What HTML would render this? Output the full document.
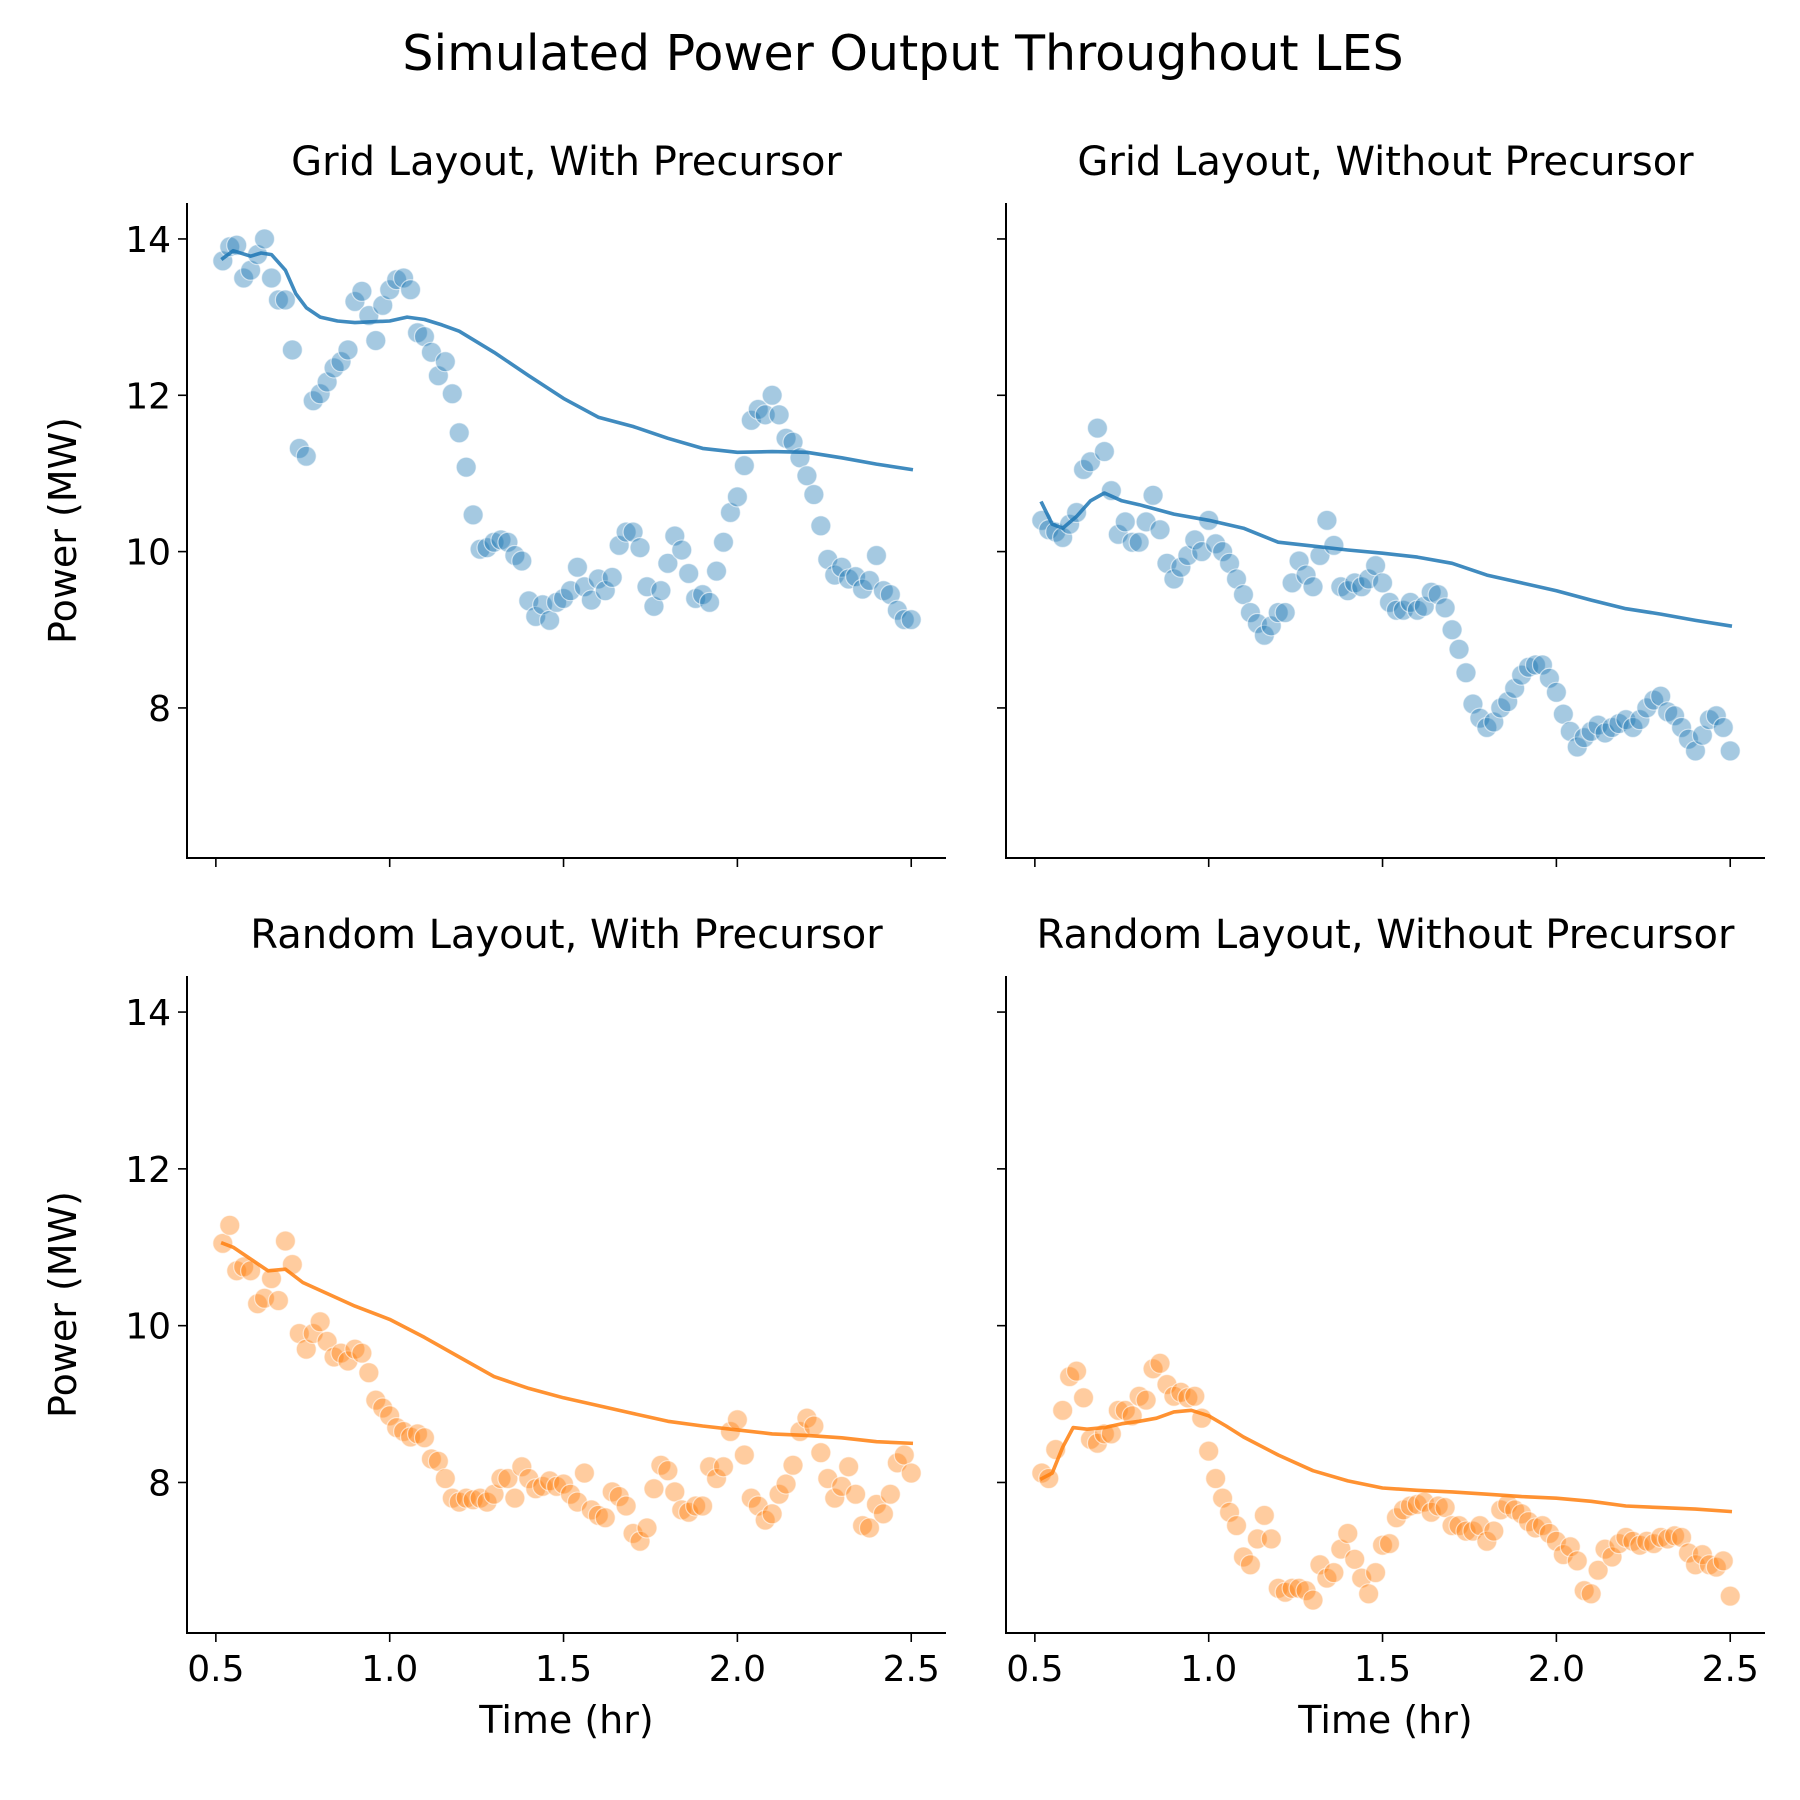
<!DOCTYPE html>
<html><head><meta charset="utf-8"><style>
html,body{margin:0;padding:0;background:#fff;}
svg{display:block;font-family:"DejaVu Sans","Liberation Sans",sans-serif;}
</style></head><body>
<svg id="fig" width="1800" height="1800" viewBox="0 0 1800 1800" xmlns="http://www.w3.org/2000/svg">
<rect width="1800" height="1800" fill="#fff"/>
<text x="903" y="70" font-size="49" text-anchor="middle">Simulated Power Output Throughout LES</text>
</svg>
<script>
const xStart = 0.52, xStep = 0.02;
const gridWithPts = [13.72,13.9,13.92,13.5,13.6,13.8,14.0,13.5,13.22,13.22,12.58,11.32,11.22,11.93,12.02,12.17,12.35,12.43,12.58,13.2,13.33,13.02,12.7,13.15,13.35,13.48,13.5,13.35,12.8,12.75,12.55,12.25,12.43,12.02,11.52,11.08,10.47,10.03,10.05,10.12,10.15,10.12,9.95,9.88,9.37,9.17,9.32,9.12,9.35,9.4,9.5,9.8,9.55,9.38,9.65,9.5,9.67,10.08,10.25,10.25,10.05,9.55,9.3,9.5,9.85,10.2,10.02,9.72,9.4,9.45,9.35,9.75,10.12,10.5,10.7,11.1,11.68,11.82,11.75,12.0,11.75,11.45,11.4,11.2,10.97,10.73,10.33,9.9,9.7,9.8,9.65,9.68,9.52,9.63,9.95,9.5,9.45,9.25,9.13,9.13];
const gridWithoutPts = [10.4,10.28,10.25,10.18,10.35,10.5,11.05,11.15,11.58,11.28,10.78,10.22,10.38,10.12,10.12,10.38,10.72,10.28,9.85,9.65,9.8,9.95,10.15,10.0,10.4,10.1,10.0,9.85,9.65,9.45,9.22,9.08,8.93,9.05,9.22,9.22,9.6,9.88,9.7,9.55,9.95,10.4,10.08,9.55,9.5,9.6,9.55,9.65,9.82,9.6,9.35,9.25,9.25,9.35,9.25,9.3,9.48,9.45,9.28,9.0,8.75,8.45,8.05,7.87,7.75,7.82,8.0,8.08,8.25,8.42,8.52,8.55,8.55,8.38,8.2,7.92,7.7,7.5,7.62,7.7,7.78,7.68,7.75,7.8,7.85,7.75,7.85,8.0,8.1,8.15,7.95,7.9,7.75,7.6,7.45,7.65,7.85,7.9,7.75,7.45];
const randomWithPts = [11.05,11.28,10.7,10.75,10.7,10.28,10.35,10.6,10.32,11.08,10.78,9.9,9.7,9.9,10.05,9.8,9.6,9.65,9.55,9.7,9.65,9.4,9.05,8.95,8.85,8.7,8.65,8.58,8.62,8.57,8.3,8.27,8.05,7.8,7.75,7.8,7.78,7.8,7.75,7.85,8.05,8.05,7.8,8.2,8.05,7.92,7.95,8.02,7.95,7.98,7.85,7.75,8.12,7.65,7.58,7.55,7.88,7.82,7.7,7.35,7.25,7.42,7.92,8.22,8.15,7.88,7.65,7.62,7.7,7.7,8.2,8.05,8.2,8.65,8.8,8.35,7.8,7.7,7.52,7.6,7.85,7.98,8.22,8.65,8.82,8.72,8.38,8.05,7.8,7.95,8.2,7.85,7.45,7.42,7.72,7.6,7.85,8.25,8.35,8.12];
const randomWithoutPts = [8.12,8.05,8.42,8.92,9.35,9.42,9.08,8.55,8.5,8.62,8.62,8.92,8.92,8.85,9.1,9.05,9.45,9.52,9.25,9.1,9.15,9.08,9.1,8.82,8.4,8.05,7.8,7.62,7.45,7.05,6.95,7.28,7.58,7.28,6.65,6.6,6.65,6.65,6.62,6.5,6.95,6.78,6.85,7.15,7.35,7.02,6.78,6.58,6.85,7.2,7.22,7.55,7.65,7.7,7.72,7.75,7.62,7.7,7.68,7.45,7.45,7.38,7.38,7.45,7.25,7.38,7.65,7.72,7.65,7.6,7.5,7.42,7.45,7.35,7.25,7.08,7.18,7.0,6.62,6.58,6.88,7.15,7.05,7.22,7.3,7.25,7.2,7.25,7.22,7.3,7.28,7.32,7.3,7.1,6.95,7.08,6.95,6.92,7.0,6.55];

const gridWithLineX = [0.52,0.55,0.6,0.63,0.66,0.7,0.73,0.76,0.8,0.85,0.9,1.0,1.05,1.1,1.15,1.2,1.3,1.4,1.5,1.6,1.7,1.8,1.9,2.0,2.1,2.2,2.3,2.4,2.5];
const gridWithLineY = [13.75,13.85,13.78,13.82,13.8,13.6,13.3,13.12,13.0,12.95,12.93,12.95,13.0,12.97,12.9,12.82,12.55,12.25,11.96,11.72,11.6,11.45,11.32,11.27,11.28,11.27,11.2,11.12,11.05];
const gridWithoutLineX = [0.52,0.55,0.58,0.62,0.66,0.7,0.75,0.8,0.9,1.0,1.1,1.2,1.3,1.4,1.5,1.6,1.7,1.8,1.9,2.0,2.1,2.2,2.3,2.4,2.5];
const gridWithoutLineY = [10.62,10.35,10.3,10.45,10.65,10.75,10.65,10.6,10.48,10.4,10.3,10.12,10.07,10.02,9.98,9.93,9.85,9.7,9.6,9.5,9.38,9.27,9.2,9.12,9.05];
const randomWithLineX = [0.52,0.55,0.6,0.65,0.7,0.75,0.8,0.9,1.0,1.1,1.2,1.3,1.4,1.5,1.6,1.7,1.8,1.9,2.0,2.1,2.2,2.3,2.4,2.5];
const randomWithLineY = [11.05,11.0,10.85,10.7,10.72,10.55,10.45,10.25,10.08,9.85,9.6,9.35,9.2,9.08,8.98,8.88,8.78,8.72,8.67,8.62,8.6,8.57,8.52,8.5];
const randomWithoutLineX = [0.52,0.55,0.58,0.61,0.65,0.7,0.75,0.8,0.85,0.9,0.95,1.0,1.05,1.1,1.2,1.3,1.4,1.5,1.6,1.7,1.8,1.9,2.0,2.1,2.2,2.3,2.4,2.5];
const randomWithoutLineY = [8.05,8.12,8.45,8.7,8.68,8.7,8.75,8.78,8.82,8.9,8.92,8.85,8.72,8.58,8.35,8.15,8.02,7.93,7.9,7.88,7.85,7.82,7.8,7.76,7.7,7.68,7.66,7.63];

const xTicks = [0.5,1.0,1.5,2.0,2.5];
const xTickLabels = ["0.5","1.0","1.5","2.0","2.5"];
const yTicks = [8,10,12,14];
const yTickLabels = ["8","10","12","14"];

const NS = "http://www.w3.org/2000/svg";
const svg = document.getElementById('fig');
function mk(tag, attrs, parent){const e=document.createElementNS(NS,tag);for(const k in attrs)e.setAttribute(k,attrs[k]);(parent||svg).appendChild(e);return e;}

const panels = [
 {id:'grid-with', title:'Grid Layout, With Precursor', pts:gridWithPts, lx:gridWithLineX, ly:gridWithLineY, color:'#1f77b4', left:187, right:946, top:203, bottom:858, showYLab:true, showXLab:false},
 {id:'grid-without', title:'Grid Layout, Without Precursor', pts:gridWithoutPts, lx:gridWithoutLineX, ly:gridWithoutLineY, color:'#1f77b4', left:1006, right:1765, top:203, bottom:858, showYLab:false, showXLab:false},
 {id:'random-with', title:'Random Layout, With Precursor', pts:randomWithPts, lx:randomWithLineX, ly:randomWithLineY, color:'#ff7f0e', left:187, right:946, top:976, bottom:1633, showYLab:true, showXLab:true},
 {id:'random-without', title:'Random Layout, Without Precursor', pts:randomWithoutPts, lx:randomWithoutLineX, ly:randomWithoutLineY, color:'#ff7f0e', left:1006, right:1765, top:976, bottom:1633, showYLab:false, showXLab:true}
];
const xMin=0.417, xMax=2.6, yMin=6.08, yMax=14.46;

panels.forEach(p=>{
  const g = mk('g',{});
  
  
  const sx = v => p.left + (v-xMin)/(xMax-xMin)*(p.right-p.left);
  const sy = v => p.bottom - (v-yMin)/(yMax-yMin)*(p.bottom-p.top);
  const t = mk('text',{x:(p.left+p.right)/2, y:p.top-28, 'font-size':40, 'text-anchor':'middle'}, g);
  t.textContent = p.title;
  
  
  const pg = mk('g',{}, g);
  
  
  p.pts.forEach((v,i)=>{
    const x = xStart + i*xStep;
    const c = mk('circle',{cx:sx(x), cy:sy(v), r:10, fill:p.color, 'fill-opacity':0.4, stroke:'#fff', 'stroke-opacity':0.6, 'stroke-width':1.2}, pg);
    
    
  });
  const d = p.lx.map((x,i)=>(i?'L':'M')+sx(x).toFixed(1)+','+sy(p.ly[i]).toFixed(1)).join(' ');
  const ln = mk('path',{d:d, fill:'none', stroke:p.color, 'stroke-width':3.6, 'stroke-opacity':0.85, 'stroke-linejoin':'round', 'stroke-linecap':'square'}, g);
  
  
  const ax = mk('path',{d:`M${p.left},${p.top} L${p.left},${p.bottom} L${p.right},${p.bottom}`, fill:'none', stroke:'#000', 'stroke-width':2}, g);
  
  
  xTicks.forEach((v,i)=>{
    mk('line',{x1:sx(v), x2:sx(v), y1:p.bottom, y2:p.bottom+9, stroke:'#000','stroke-width':1.6}, g);
    if(p.showXLab){
      const tl = mk('text',{x:sx(v), y:p.bottom+48, 'font-size':36, 'text-anchor':'middle'}, g);
      tl.textContent = xTickLabels[i];
      
      
    }
  });
  yTicks.forEach((v,i)=>{
    mk('line',{x1:p.left-9, x2:p.left, y1:sy(v), y2:sy(v), stroke:'#000','stroke-width':1.6}, g);
    if(p.showYLab){
      const tl = mk('text',{x:p.left-16, y:sy(v)+13, 'font-size':36, 'text-anchor':'end'}, g);
      tl.textContent = yTickLabels[i];
      
      
    }
  });
  if(p.showYLab){
    const cy=(p.top+p.bottom)/2;
    const yl = mk('text',{x:76, y:cy, 'font-size':38, 'text-anchor':'middle', transform:`rotate(-90 76 ${cy})`}, g);
    yl.textContent = 'Power (MW)';
    
    
  }
  if(p.showXLab){
    const xl = mk('text',{x:(p.left+p.right)/2, y:p.bottom+100, 'font-size':38, 'text-anchor':'middle'}, g);
    xl.textContent = 'Time (hr)';
    
    
  }
});
</script>
</body></html>
